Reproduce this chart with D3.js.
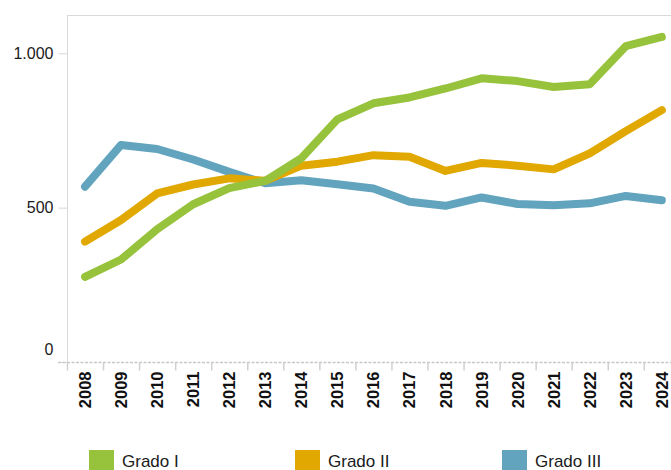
<!DOCTYPE html>
<html>
<head>
<meta charset="utf-8">
<script src="https://cdn.jsdelivr.net/npm/d3@7"></script>
<style>
  body { margin: 0; background: #fff; }
  svg { display: block; font-family: "Liberation Sans", Arial, sans-serif; }
</style>
</head>
<body>
<div id="chart"></div>
<script>
const years = ["2008","2009","2010","2011","2012","2013","2014","2015","2016","2017","2018","2019","2020","2021","2022","2023","2024"];
const gradoI   = [276, 332, 430, 511, 563, 587, 660, 786, 838, 857, 886, 919, 910, 891, 900, 1023, 1053];
const gradoII  = [390, 460, 546, 575, 595, 587, 636, 649, 670, 665, 619, 645, 636, 624, 676, 748, 816];
const gradoIII = [568, 703, 690, 656, 616, 579, 589, 576, 562, 519, 506, 533, 512, 508, 514, 538, 524];
const seriesNames = ["Grado I", "Grado II", "Grado III"];
const colors = ["#97c23c", "#e0a800", "#62a3be"];
const yTicks = [0, 500, 1000];

const w = 671, h = 470;
const plotLeft = 67, plotTop = 15, plotBottom = 362;

const svg = d3.select("#chart").append("svg")
  .attr("width", w).attr("height", h);

const x = d3.scaleBand()
  .domain(years)
  .range([plotLeft, plotLeft + 36.05 * years.length]);

const y = d3.scaleLinear()
  .domain([0, 1000])
  .range([plotBottom, 53.3]);

// frame top
svg.append("line")
  .attr("x1", plotLeft).attr("x2", w).attr("y1", plotTop + 0.5).attr("y2", plotTop + 0.5)
  .attr("stroke", "#d9d9d9").attr("stroke-width", 1);

// y axis
const yAxis = svg.append("g")
  .attr("transform", "translate(" + (plotLeft + 0.5) + ",0)")
  .call(d3.axisLeft(y).tickValues(yTicks).tickSize(9).tickPadding(5)
    .tickFormat(d => d3.format(",")(d).replace(/,/g, ".")));
yAxis.select(".domain").attr("d", "M0," + plotTop + "V" + plotBottom).attr("stroke", "#d9d9d9");
yAxis.selectAll(".tick line").attr("stroke", "#d9d9d9");
yAxis.selectAll(".tick text")
  .attr("font-size", 16).attr("fill", "#1a1a1a")
  .attr("dy", d => d === 0 ? "-0.45em" : "0.32em");

// x axis
const xAxis = svg.append("g")
  .attr("transform", "translate(0," + (plotBottom + 0.5) + ")")
  .call(d3.axisBottom(x).tickSize(0).tickPadding(0));
xAxis.select(".domain").remove();
xAxis.append("line")
  .attr("x1", plotLeft - 9).attr("x2", w).attr("y1", 0).attr("y2", 0)
  .attr("stroke", "#c8c8c8").attr("stroke-width", 1.5)
  .attr("stroke-dasharray", "3,1.5");
xAxis.selectAll(".sep")
  .data(years)
  .enter().append("line")
  .attr("class", "sep")
  .attr("x1", d => x(d) + 0.5).attr("x2", d => x(d) + 0.5)
  .attr("y1", 0).attr("y2", 8)
  .attr("stroke", "#d0d0d0").attr("stroke-width", 1.5);
xAxis.selectAll(".tick text")
  .attr("font-size", 16.5).attr("font-weight", "bold").attr("fill", "#111")
  .attr("text-anchor", "end")
  .attr("transform", "translate(6,9) rotate(-90)")
  .attr("dy", "0");

// lines
const data = [gradoI, gradoII, gradoIII];
const line = d3.line()
  .x((d, i) => x(years[i]) + x.bandwidth() / 2)
  .y(d => y(d));

[2, 1, 0].forEach(k => {
  svg.append("path")
    .datum(data[k])
    .attr("d", line)
    .attr("fill", "none")
    .attr("stroke", colors[k])
    .attr("stroke-width", 8)
    .attr("stroke-linecap", "round")
    .attr("stroke-linejoin", "round");
});

// legend
const legendX = [89, 295, 502];
const legend = svg.selectAll(".legend")
  .data(seriesNames)
  .enter().append("g")
  .attr("transform", (d, i) => "translate(" + legendX[i] + ",450)");
legend.append("rect")
  .attr("width", 25).attr("height", 20)
  .attr("fill", (d, i) => colors[i]);
legend.append("text")
  .attr("x", 33).attr("y", 17)
  .attr("font-size", 17).attr("fill", "#1a1a1a")
  .text(d => d);
</script>
</body>
</html>
